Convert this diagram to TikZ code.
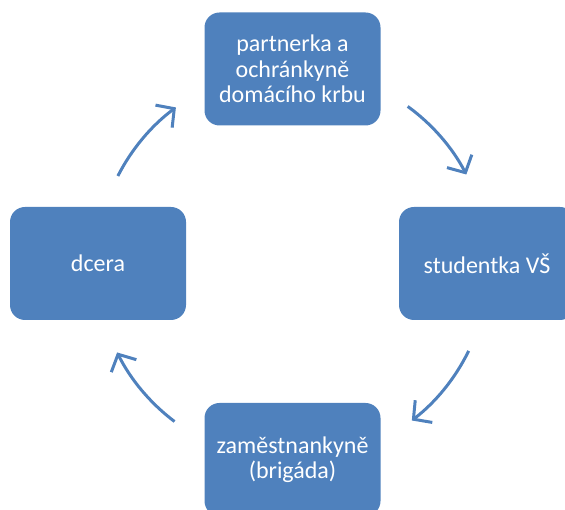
\documentclass[tikz,border=0pt]{standalone}
\usepackage{fontspec}
\setmainfont{Carlito}
\usetikzlibrary{arrows.meta}
\definecolor{boxblue}{HTML}{4F81BD}
\definecolor{arrowblue}{HTML}{4F81BD}
\tikzset{
  cyclebox/.style={rectangle, rounded corners=15pt, fill=boxblue, draw=none,
    minimum width=176pt, minimum height=113pt, inner sep=0pt,
    text=white, align=center, font=\fontsize{24pt}{25.5pt}\selectfont},
  cyclearrow/.style={draw=arrowblue, line width=3pt,
    -{Straight Barb[length=13pt, width=28pt, line width=3pt]}}
}
\begin{document}
\begin{tikzpicture}[x=1pt,y=1pt]
\useasboundingbox (0,0) rectangle (565,510);
\clip (0,0) rectangle (565,510);
\coordinate (c) at (292.5,245);
\node[cyclebox] (top) at (292.5,441) {partnerka a\\ochránkyně\\domácího krbu};
\node[cyclebox] (right) at (487,246.5) {studentka VŠ};
\node[cyclebox] (bottom) at (292.5,50.5) {zaměstnankyně\\(brigáda)};
\node[cyclebox] (left) at (98,246.5) {dcera};
\draw[cyclearrow] ([shift={(54:196)}]c) arc[start angle=54, end angle=27.5, radius=196];
\draw[cyclearrow] ([shift={(334:196)}]c) arc[start angle=334, end angle=307.5, radius=196];
\draw[cyclearrow] ([shift={(233:196)}]c) arc[start angle=233, end angle=206.5, radius=196];
\draw[cyclearrow] ([shift={(153:196)}]c) arc[start angle=153, end angle=126.5, radius=196];
\end{tikzpicture}
\end{document}
